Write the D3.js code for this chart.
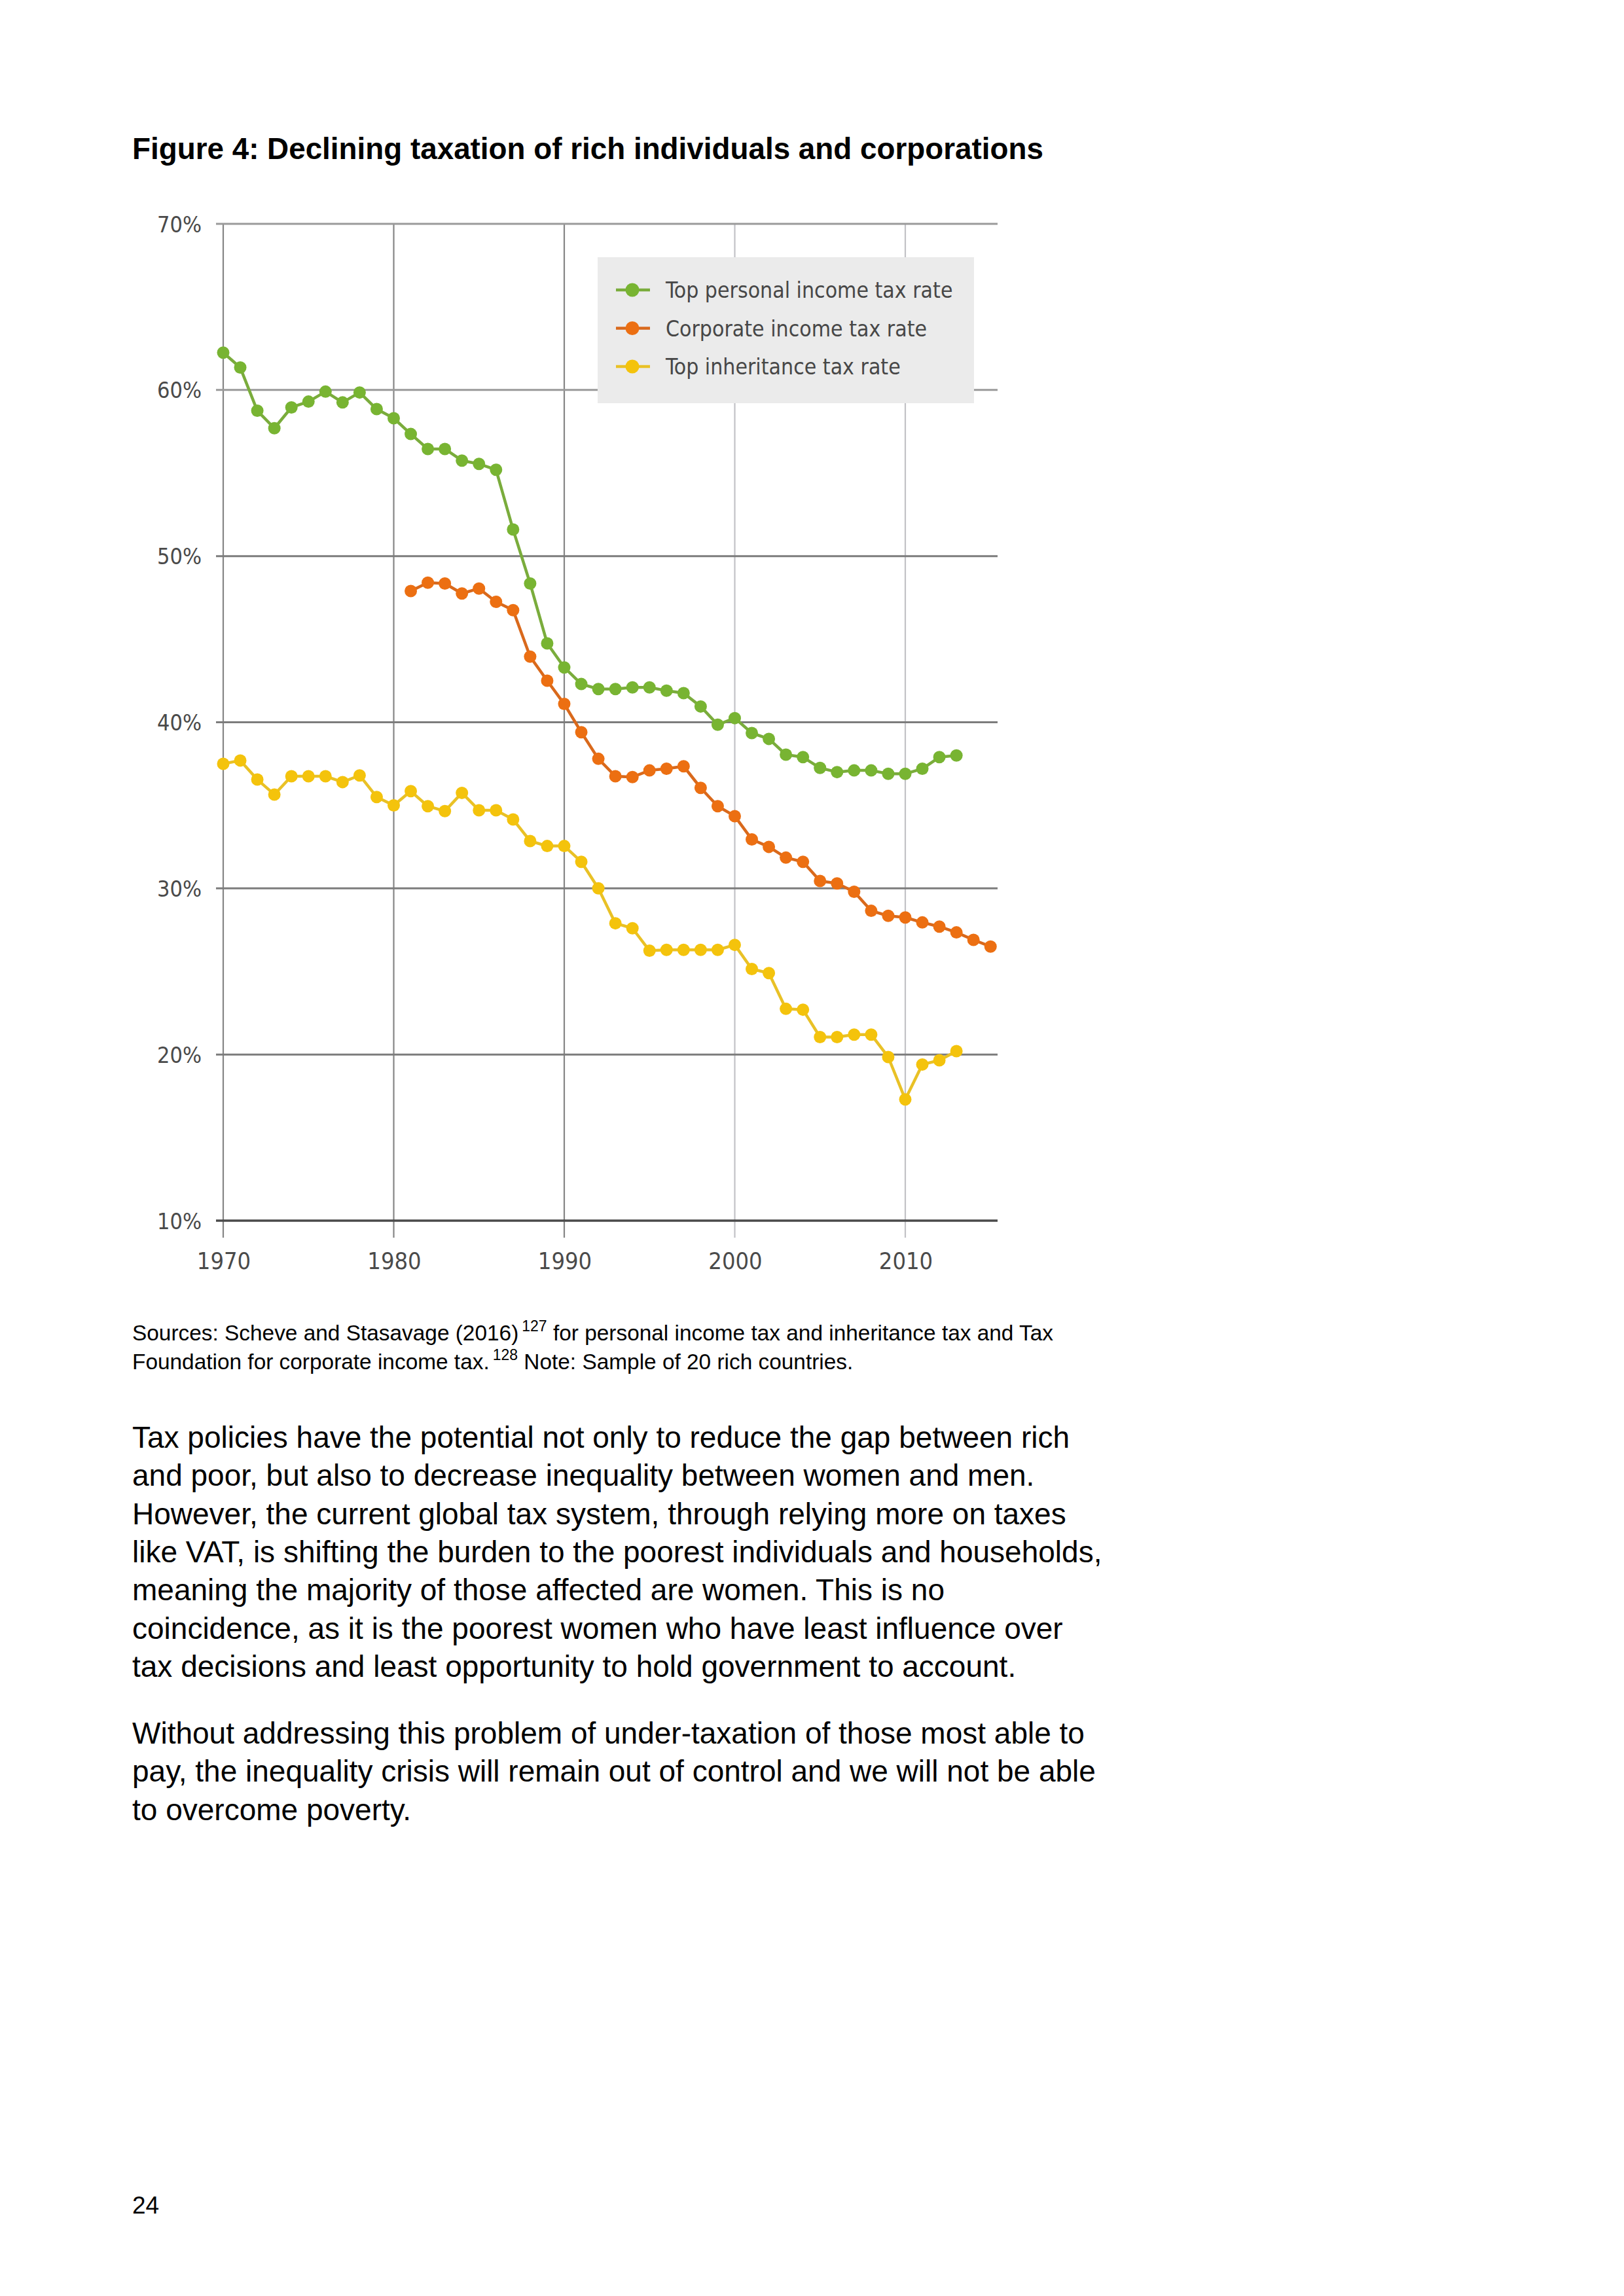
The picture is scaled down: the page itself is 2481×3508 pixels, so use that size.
<!DOCTYPE html>
<html>
<head>
<meta charset="utf-8">
<script src="https://cdnjs.cloudflare.com/ajax/libs/d3/7.8.5/d3.min.js"></script>
<style>
    html, body { margin: 0; padding: 0; background: #fff; }
    svg { display: block; }
    .tick-label { font-family: 'DejaVu Sans Condensed', 'DejaVu Sans', sans-serif; font-stretch: condensed; fill: #4a4a4a; }
    .legend-label { font-family: 'DejaVu Sans Condensed', 'DejaVu Sans', sans-serif; font-stretch: condensed; fill: #474747; }
    .page-text { font-family: 'Liberation Sans', Arial, sans-serif; fill: #000; }
</style>
</head>
<body>
<svg id="svg"></svg>
<script>
// series values (percent)
var personalYears = d3.range(1970, 2014),
    personalRate = [62.25, 61.35, 58.75, 57.7, 58.95, 59.3, 59.9, 59.25, 59.85, 58.85,
        58.3, 57.35, 56.45, 56.45, 55.75, 55.55, 55.2, 51.6, 48.35, 44.75,
        43.3, 42.3, 42.0, 42.0, 42.1, 42.1, 41.9, 41.75, 40.95, 39.85,
        40.25, 39.35, 39.0, 38.05, 37.9, 37.25, 37.0, 37.1, 37.1, 36.9,
        36.9, 37.2, 37.9, 38.0];

var corporateYears = d3.range(1981, 2016),
    corporateRate = [47.9, 48.4, 48.35, 47.75, 48.05, 47.25, 46.75, 43.95, 42.5,
        41.1, 39.4, 37.8, 36.75, 36.7, 37.1, 37.2, 37.35, 36.05, 34.95,
        34.35, 32.95, 32.5, 31.85, 31.6, 30.45, 30.3, 29.8, 28.65, 28.35,
        28.25, 27.95, 27.7, 27.35, 26.9, 26.5];

var inheritanceYears = d3.range(1970, 2014),
    inheritanceRate = [37.5, 37.7, 36.55, 35.65, 36.75, 36.75, 36.75, 36.4, 36.8, 35.5,
        35.0, 35.85, 34.95, 34.65, 35.75, 34.7, 34.7, 34.15, 32.85, 32.55,
        32.55, 31.6, 30.0, 27.9, 27.6, 26.25, 26.3, 26.3, 26.3, 26.3,
        26.6, 25.15, 24.9, 22.75, 22.7, 21.05, 21.05, 21.2, 21.2, 19.85,
        17.3, 19.4, 19.65, 20.2];

var seriesNames = ['Top personal income tax rate', 'Corporate income tax rate', 'Top inheritance tax rate'],
    seriesColors = ['#78b432', '#ec6f12', '#f4c30c'],
    lineColors = ['#7aac3c', '#d9691c', '#e9c126'];

var xTicks = [1970, 1980, 1990, 2000, 2010],
    yTicks = [10, 20, 30, 40, 50, 60, 70];

var titleText = 'Figure 4: Declining taxation of rich individuals and corporations';
var sourceLines = [
    ['Sources: Scheve and Stasavage (2016)', '127', ' for personal income tax and inheritance tax and Tax'],
    ['Foundation for corporate income tax.', '128', ' Note: Sample of 20 rich countries.']
];
var paragraphs = [
    ['Tax policies have the potential not only to reduce the gap between rich',
        'and poor, but also to decrease inequality between women and men.',
        'However, the current global tax system, through relying more on taxes',
        'like VAT, is shifting the burden to the poorest individuals and households,',
        'meaning the majority of those affected are women. This is no',
        'coincidence, as it is the poorest women who have least influence over',
        'tax decisions and least opportunity to hold government to account.'],
    ['Without addressing this problem of under-taxation of those most able to',
        'pay, the inequality crisis will remain out of control and we will not be able',
        'to overcome poverty.']
];
var pageNumber = '24';

var pageSize = [2481, 3508],
    marginLeft = 202,
    nodeR = 9.5;

var $svg = d3.select('#svg')
    .attr('width', pageSize[0])
    .attr('height', pageSize[1]);

var x = d3.scaleLinear().domain([1970, 2010]).range([341, 1383]),
    y = d3.scaleLinear().domain([10, 70]).range([1865, 342]);

var gridLeft = 330,
    gridRight = 1524;

// title
$svg.append('text')
    .attr('class', 'page-text')
    .attr('x', marginLeft)
    .attr('y', 243)
    .style('font-size', '45.8px')
    .style('font-weight', 'bold')
    .text(titleText);

var $chart = $svg.append('g').classed('chart', true);

// vertical grid
$chart.append('g')
    .classed('grid-x', true)
    .selectAll('line')
    .data(xTicks)
    .enter()
    .append('line')
    .attr('x1', function (d) { return x(d); })
    .attr('x2', function (d) { return x(d); })
    .attr('y1', y(70))
    .attr('y2', y(10) + 26)
    .attr('stroke', function (d) { return d < 2000 ? '#858585' : '#c2c2c6'; })
    .attr('stroke-width', 2.2);

// horizontal grid
$chart.append('g')
    .classed('grid-y', true)
    .selectAll('line')
    .data(yTicks)
    .enter()
    .append('line')
    .attr('x1', gridLeft)
    .attr('x2', gridRight)
    .attr('y1', function (d) { return y(d); })
    .attr('y2', function (d) { return y(d); })
    .attr('stroke', function (d) { return d === 10 ? '#4a4a4a' : (d >= 60 ? '#9a9a9a' : '#7c7c7c'); })
    .attr('stroke-width', function (d) { return d === 10 ? 3.6 : 3; });

// axis labels
$chart.append('g')
    .selectAll('text')
    .data(yTicks)
    .enter()
    .append('text')
    .attr('class', 'tick-label')
    .attr('x', 308)
    .attr('y', function (d) { return y(d) + 12.5; })
    .attr('text-anchor', 'end')
    .style('font-size', '34px')
    .text(function (d) { return d + '%'; });

$chart.append('g')
    .selectAll('text')
    .data(xTicks)
    .enter()
    .append('text')
    .attr('class', 'tick-label')
    .attr('x', function (d) { return x(d) + 1; })
    .attr('y', 1939)
    .attr('text-anchor', 'middle')
    .style('font-size', '36px')
    .text(function (d) { return d; });

// legend box
var legendBox = { x: 913, y: 393, w: 575, h: 223 };
var $legend = $chart.append('g').classed('legend', true);

$legend.append('rect')
    .attr('x', legendBox.x)
    .attr('y', legendBox.y)
    .attr('width', legendBox.w)
    .attr('height', legendBox.h)
    .attr('fill', '#ebebeb');

seriesNames.forEach(function (name, i) {
    var cy = 443 + i * 58.5;
    var $row = $legend.append('g').attr('transform', 'translate(0,' + cy + ')');
    $row.append('line')
        .attr('x1', 941)
        .attr('x2', 993)
        .attr('y1', 0)
        .attr('y2', 0)
        .attr('stroke', lineColors[i])
        .attr('stroke-width', 4.5);
    $row.append('circle')
        .attr('cx', 966)
        .attr('cy', 0)
        .attr('r', 10.5)
        .attr('fill', seriesColors[i]);
    $row.append('text')
        .attr('class', 'legend-label')
        .attr('x', 1017)
        .attr('y', 12)
        .style('font-size', '33.5px')
        .text(name);
});

// series
var series = [
    { years: personalYears, values: personalRate },
    { years: corporateYears, values: corporateRate },
    { years: inheritanceYears, values: inheritanceRate }
];

var line = d3.line()
    .x(function (d) { return x(d[0]); })
    .y(function (d) { return y(d[1]); });

series.forEach(function (s, i) {
    var points = d3.zip(s.years, s.values);
    var $s = $chart.append('g').classed('series', true);

    $s.append('path')
        .datum(points)
        .attr('d', line)
        .attr('fill', 'none')
        .attr('stroke', lineColors[i])
        .attr('stroke-width', 4.5)
        .attr('stroke-linejoin', 'round');

    $s.selectAll('circle')
        .data(points)
        .enter()
        .append('circle')
        .attr('cx', function (d) { return x(d[0]); })
        .attr('cy', function (d) { return y(d[1]); })
        .attr('r', nodeR)
        .attr('fill', seriesColors[i]);
});

// sources note
var $note = $svg.append('g');
sourceLines.forEach(function (parts, i) {
    var $t = $note.append('text')
        .attr('class', 'page-text')
        .attr('x', marginLeft)
        .attr('y', 2048 + i * 44)
        .style('font-size', '33.4px');
    $t.append('tspan').text(parts[0]);
    $t.append('tspan').attr('dx', 5).attr('dy', -14).style('font-size', '23px').text(parts[1]);
    $t.append('tspan').attr('dy', 14).text(parts[2]);
});

// body text
var lineStep = 58.3,
    paraTops = [2212, 2664];

paragraphs.forEach(function (lines, p) {
    $svg.append('g')
        .selectAll('text')
        .data(lines)
        .enter()
        .append('text')
        .attr('class', 'page-text')
        .attr('x', marginLeft)
        .attr('y', function (d, i) { return paraTops[p] + i * lineStep; })
        .style('font-size', '46px')
        .text(function (d) { return d; });
});

$svg.append('text')
    .attr('class', 'page-text')
    .attr('x', marginLeft)
    .attr('y', 3382)
    .style('font-size', '37px')
    .text(pageNumber);
</script>
</body>
</html>
